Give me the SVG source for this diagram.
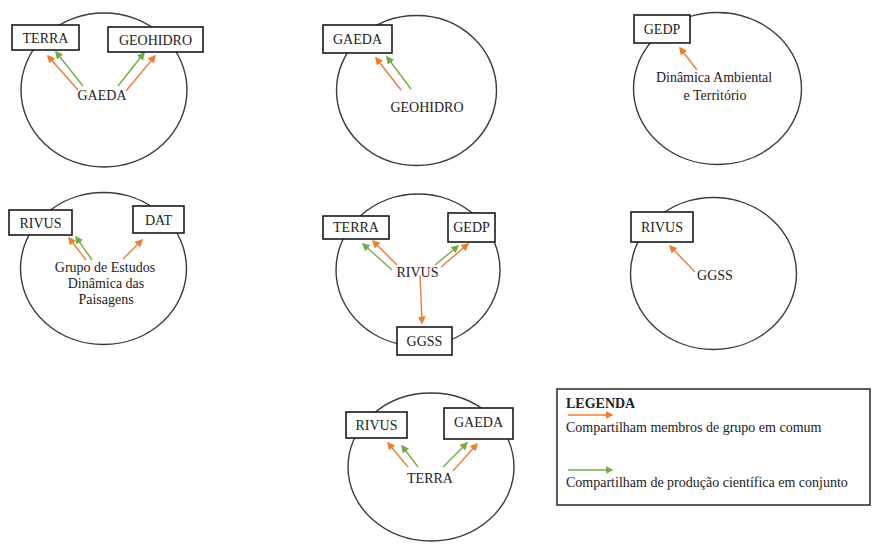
<svg xmlns="http://www.w3.org/2000/svg" width="872" height="545" viewBox="0 0 872 545">
<style>
.c{fill:none;stroke:#3a3a3a;stroke-width:1.4}
.b{fill:#fff;stroke:#1a1a1a;stroke-width:1.6}
.t{font-size:14px;fill:#222;text-anchor:middle}
.lt{font-size:14px;fill:#222}
.o{stroke:#ED7D31;stroke-width:1.4;fill:none;marker-end:url(#ao)}
.g{stroke:#70AD47;stroke-width:1.4;fill:none;marker-end:url(#ag)}
</style>
<defs>
<marker id="ao" markerUnits="userSpaceOnUse" markerWidth="9" markerHeight="9" refX="6.5" refY="4" orient="auto"><path d="M0,0 L8,4 L0,8 z" fill="#ED7D31"/></marker>
<marker id="ag" markerUnits="userSpaceOnUse" markerWidth="9" markerHeight="9" refX="6.5" refY="4" orient="auto"><path d="M0,0 L8,4 L0,8 z" fill="#70AD47"/></marker>
</defs>
<rect width="872" height="545" fill="#fff"/>
<g font-family="Liberation Serif, DejaVu Serif, Times New Roman, serif">
<g id="cluster-gaeda">
<ellipse class="c" cx="104" cy="90" rx="83" ry="77"/>
<text class="t" x="102" y="100">GAEDA</text>
</g>
<g id="cluster-geohidro">
<ellipse class="c" cx="416.5" cy="90.5" rx="80" ry="75"/>
<text class="t" x="427" y="112">GEOHIDRO</text>
</g>
<g id="cluster-dat">
<ellipse class="c" cx="717.5" cy="88.5" rx="84" ry="76"/>
<text class="t" x="714" y="82">Dinâmica Ambiental</text>
<text class="t" x="715" y="100">e Território</text>
</g>
<g id="cluster-gedp">
<ellipse class="c" cx="103.5" cy="268.5" rx="83" ry="76"/>
<text class="t" x="105" y="272">Grupo de Estudos</text>
<text class="t" x="106" y="288">Dinâmica das</text>
<text class="t" x="106" y="304">Paisagens</text>
</g>
<g id="cluster-rivus">
<ellipse class="c" cx="418" cy="270" rx="82" ry="76"/>
<text class="t" x="417.5" y="277">RIVUS</text>
</g>
<g id="cluster-ggss">
<ellipse class="c" cx="713.5" cy="273.5" rx="83" ry="76"/>
<text class="t" x="715" y="280">GGSS</text>
</g>
<g id="cluster-terra">
<ellipse class="c" cx="431" cy="467" rx="83" ry="74"/>
<text class="t" x="430" y="483">TERRA</text>
</g>

<g id="connectors">
<line class="o" x1="78" y1="90" x2="48" y2="56"/>
<line class="g" x1="83" y1="86" x2="56" y2="52"/>
<line class="g" x1="118" y1="86" x2="144" y2="53"/>
<line class="o" x1="126" y1="91" x2="155" y2="56"/>

<line class="o" x1="401" y1="90" x2="376" y2="58"/>
<line class="g" x1="411" y1="89" x2="387" y2="57"/>

<line class="o" x1="697" y1="70" x2="680" y2="48"/>

<line class="o" x1="86" y1="260" x2="69" y2="238"/>
<line class="g" x1="92" y1="260" x2="76" y2="237"/>
<line class="o" x1="123" y1="259" x2="142" y2="240"/>

<line class="g" x1="392" y1="270" x2="363" y2="244"/>
<line class="o" x1="397" y1="265" x2="373" y2="241"/>
<line class="g" x1="435" y1="265" x2="458" y2="246"/>
<line class="o" x1="441" y1="267" x2="468" y2="244"/>
<line class="o" x1="420" y1="275" x2="422" y2="323"/>

<line class="o" x1="695" y1="272" x2="670" y2="246"/>

<line class="o" x1="408" y1="467" x2="388" y2="443"/>
<line class="g" x1="418" y1="467" x2="402" y2="446"/>
<line class="g" x1="443" y1="467" x2="467" y2="443"/>
<line class="o" x1="453" y1="471" x2="477" y2="444"/>
</g>

<g id="terra-1"><rect class="b" x="12" y="25" width="67" height="25"/><text class="t" x="45.5" y="42.5">TERRA</text></g>
<g id="geohidro-1"><rect class="b" x="108" y="27" width="95" height="25"/><text class="t" x="155.5" y="44.5">GEOHIDRO</text></g>
<g id="gaeda-2"><rect class="b" x="323" y="25" width="69" height="28"/><text class="t" x="357.5" y="44">GAEDA</text></g>
<g id="gedp-3"><rect class="b" x="634" y="15" width="56" height="28"/><text class="t" x="662" y="34">GEDP</text></g>
<g id="rivus-4"><rect class="b" x="9" y="210" width="63" height="25"/><text class="t" x="40.5" y="227.5">RIVUS</text></g>
<g id="dat-4"><rect class="b" x="133" y="206" width="51" height="27"/><text class="t" x="158.5" y="224.5">DAT</text></g>
<g id="terra-5"><rect class="b" x="323" y="216" width="66" height="23"/><text class="t" x="356" y="232">TERRA</text></g>
<g id="gedp-5"><rect class="b" x="448" y="213" width="47" height="29"/><text class="t" x="471.5" y="232">GEDP</text></g>
<g id="ggss-5"><rect class="b" x="397" y="327" width="55" height="28"/><text class="t" x="424.5" y="346">GGSS</text></g>
<g id="rivus-6"><rect class="b" x="631" y="212" width="62" height="30"/><text class="t" x="662" y="232">RIVUS</text></g>
<g id="rivus-7"><rect class="b" x="346" y="412" width="61" height="26"/><text class="t" x="376.5" y="430">RIVUS</text></g>
<g id="gaeda-7"><rect class="b" x="444" y="408" width="69" height="31"/><text class="t" x="478.5" y="427">GAEDA</text></g>

<g id="legend">
<rect x="557" y="389" width="313" height="116" fill="#fff" stroke="#333" stroke-width="1.6"/>
<text class="lt" x="566" y="408" font-weight="bold">LEGENDA</text>
<line class="o" x1="568" y1="415" x2="612" y2="415"/>
<text class="lt" x="566" y="432">Compartilham membros de grupo em comum</text>
<line class="g" x1="568" y1="470" x2="612" y2="470"/>
<text class="lt" x="566" y="487">Compartilham de produção científica em conjunto</text>
</g>
</g>
</svg>
